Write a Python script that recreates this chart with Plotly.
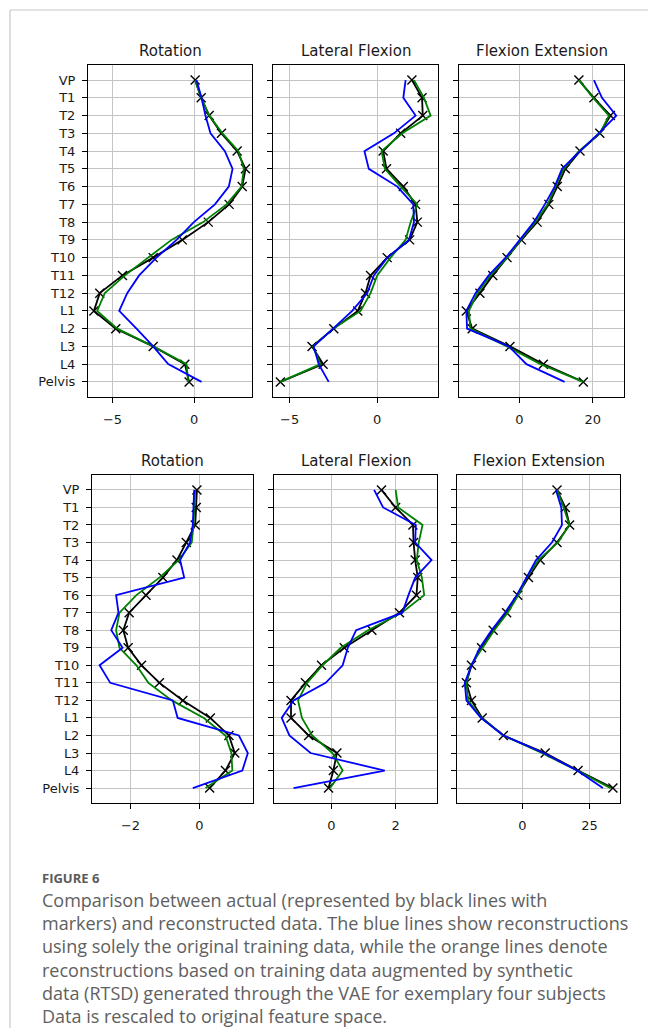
import plotly.graph_objects as go

W, H = 648, 1028

levels = ["VP", "T1", "T2", "T3", "T4", "T5", "T6", "T7", "T8", "T9",
          "T10", "T11", "T12", "L1", "L2", "L3", "L4", "Pelvis"]
panel_titles = ["Rotation", "Lateral Flexion", "Flexion Extension"]

# ---- Subject A (top row) ----
a_rot_actual = [0.06, 0.43, 0.92, 1.67, 2.63, 3.14, 2.94, 2.14, 0.86, -0.73,
                -2.51, -4.39, -5.78, -6.14, -4.80, -2.51, -0.57, -0.31]
a_rot_blue = [0.14, 0.45, 0.69, 1.0, 1.88, 2.35, 2.12, 1.27, -0.02, -1.08,
              -2.31, -3.37, -4.1, -4.59, -3.53, -2.51, -1.59, 0.45]
a_rot_green = [0.06, 0.43, 0.92, 1.73, 2.71, 3.04, 2.9, 1.98, 0.55, -1.39,
               -2.82, -4.24, -5.47, -5.94, -4.71, -2.51, -0.47, -0.37]

a_lat_actual = [1.98, 2.56, 2.60, 1.34, 0.34, 0.53, 1.49, 2.19, 2.29, 1.85,
                0.57, -0.38, -0.67, -1.11, -2.48, -3.72, -3.09, -5.53]
a_lat_blue = [1.62, 1.49, 2.19, 0.95, -0.73, -0.48, 1.15, 2.06, 2.10, 1.81,
              0.57, -0.19, -0.57, -1.43, -2.52, -3.63, -3.34, -2.77]
a_lat_green = [2.10, 2.67, 3.05, 1.43, 0.25, 0.44, 1.34, 2.29, 1.91, 1.62,
               0.76, 0.0, -0.38, -0.95, -2.52, -3.66, -3.24, -5.53]

a_fe_actual = [16.2, 20.3, 24.8, 21.9, 16.5, 12.5, 10.3, 8.0, 4.8, 0.5,
               -3.4, -7.3, -10.8, -14.5, -12.9, -2.6, 6.5, 17.4]
a_fe_blue = [20.3, 22.5, 26.4, 21.6, 16.5, 11.6, 9.6, 6.9, 3.9, 0.0,
             -3.8, -8.4, -12.0, -14.5, -14.3, -2.9, 1.9, 12.3]
a_fe_green = [16.2, 20.1, 24.4, 21.9, 16.2, 12.1, 9.8, 7.7, 4.3, 0.3,
              -3.4, -7.9, -11.5, -13.8, -13.4, -3.4, 5.7, 17.4]

# ---- Subject B (bottom row) ----
b_rot_actual = [-0.07, -0.09, -0.12, -0.38, -0.65, -1.06, -1.55, -2.04, -2.21, -2.07,
                -1.68, -1.16, -0.48, 0.32, 0.86, 1.03, 0.76, 0.30]
b_rot_blue = [-0.15, -0.17, -0.19, -0.27, -0.56, -0.44, -2.42, -2.35, -2.56, -2.23,
              -2.90, -2.59, -0.77, -0.63, 1.15, 1.41, 1.25, -0.19]
b_rot_green = [-0.12, -0.14, -0.17, -0.22, -0.60, -1.16, -1.83, -2.32, -2.42, -2.32,
               -1.83, -1.48, -0.80, 0.13, 0.76, 0.93, 0.96, 0.18]

b_lat_actual = [1.56, 2.0, 2.54, 2.56, 2.61, 2.69, 2.65, 2.12, 1.26, 0.40,
                -0.31, -0.81, -1.26, -1.26, -0.71, 0.17, 0.06, -0.09]
b_lat_blue = [1.33, 1.61, 2.63, 2.61, 3.12, 2.61, 2.40, 2.21, 0.77, 0.51,
              0.35, -0.18, -1.18, -1.55, -1.31, -0.65, 1.66, -1.18]
b_lat_green = [2.0, 2.08, 2.84, 2.72, 2.66, 2.82, 2.89, 2.19, 1.14, 0.29,
               -0.28, -0.76, -1.04, -0.92, -0.6, 0.03, 0.35, -0.04]

b_fe_actual = [12.9, 16.0, 17.6, 12.9, 6.6, 2.25, -1.75, -5.9, -10.9, -15.25,
               -19.0, -20.9, -19.0, -15.0, -7.1, 8.5, 20.75, 33.75]
b_fe_blue = [12.5, 14.5, 14.75, 11.0, 5.1, 1.6, -2.1, -6.5, -11.5, -15.9,
             -19.0, -21.5, -20.9, -15.5, -7.1, 7.9, 20.4, 30.0]
b_fe_green = [12.9, 15.4, 17.5, 13.25, 6.0, 1.6, -1.5, -5.5, -10.5, -15.0,
              -19.25, -20.9, -20.25, -15.25, -7.1, 7.25, 20.4, 32.9]

caption_label = "FIGURE 6"
caption_lines = [
    "Comparison between actual (represented by black lines with",
    "markers) and reconstructed data. The blue lines show reconstructions",
    "using solely the original training data, while the orange lines denote",
    "reconstructions based on training data augmented by synthetic",
    "data (RTSD) generated through the VAE for exemplary four subjects",
    "Data is rescaled to original feature space.",
]

rows = [
    [(a_rot_actual, a_rot_blue, a_rot_green), (a_lat_actual, a_lat_blue, a_lat_green),
     (a_fe_actual, a_fe_blue, a_fe_green)],
    [(b_rot_actual, b_rot_blue, b_rot_green), (b_lat_actual, b_lat_blue, b_lat_green),
     (b_fe_actual, b_fe_blue, b_fe_green)],
]

# layout in pixels
row_y = [(65, 397), (475, 803)]
col_x = [[(88, 252), (273, 438), (459, 624)],
         [(92, 253), (274, 437), (457, 620)]]
x_ranges = [[(-6.5, 3.54), (-5.95, 3.47), (-16.5, 28.5)],
            [(-3.12, 1.56), (-1.79, 3.29), (-24.4, 36.4)]]
x_dticks = [[5, 5, 20], [2, 2, 25]]
title_y = [51, 461]

FONT = "DejaVu Sans"
fig = go.Figure()
layout = dict(
    width=W, height=H, margin=dict(l=0, r=0, t=0, b=0),
    paper_bgcolor="white", plot_bgcolor="white", showlegend=False,
    annotations=[], shapes=[],
)

def px(x):
    return x / W

def py(y):
    return 1 - y / H

k = 0
for r in range(2):
    for c in range(3):
        k += 1
        xa = "x" if k == 1 else f"x{k}"
        ya = "y" if k == 1 else f"y{k}"
        actual, blue, green = rows[r][c]
        fig.add_trace(go.Scatter(
            x=actual, y=levels, xaxis=xa, yaxis=ya, mode="lines+markers",
            line=dict(color="black", width=1.8),
            marker=dict(symbol="x-thin", size=9, line=dict(color="black", width=1.4)),
        ))
        fig.add_trace(go.Scatter(
            x=green, y=levels, xaxis=xa, yaxis=ya, mode="lines",
            line=dict(color="#008000", width=1.8),
        ))
        fig.add_trace(go.Scatter(
            x=blue, y=levels, xaxis=xa, yaxis=ya, mode="lines",
            line=dict(color="#0000ff", width=1.8),
        ))
        x0, x1 = col_x[r][c]
        y0, y1 = row_y[r]
        axis_common = dict(
            showline=True, mirror=True, linecolor="black", linewidth=1,
            showgrid=True, gridcolor="#c4c4c4", gridwidth=1,
            ticks="outside", ticklen=5, tickcolor="black", tickwidth=1,
            zeroline=False,
            tickfont=dict(family=FONT, size=13, color="#1a1a1a"),
        )
        layout["xaxis" if k == 1 else f"xaxis{k}"] = dict(
            axis_common, domain=[px(x0), px(x1)], anchor=ya,
            range=list(x_ranges[r][c]), dtick=x_dticks[r][c], tick0=0,
            ticklabelstandoff=5,
        )
        layout["yaxis" if k == 1 else f"yaxis{k}"] = dict(
            axis_common, domain=[py(y1), py(y0)], anchor=xa,
            type="category", categoryorder="array", categoryarray=levels,
            range=[17.85, -0.85], showticklabels=(c == 0),
            ticklabelstandoff=4,
        )
        layout["annotations"].append(dict(
            text=panel_titles[c], xref="paper", yref="paper",
            x=px((x0 + x1) / 2), y=py(title_y[r]), xanchor="center", yanchor="middle",
            showarrow=False, font=dict(family=FONT, size=15, color="#1a1a1a"),
        ))

# caption
layout["annotations"].append(dict(
    text="<b>" + caption_label + "</b>", xref="paper", yref="paper",
    x=px(40), y=py(878), xanchor="left", yanchor="middle", showarrow=False,
    font=dict(family="Open Sans", size=13, color="#5a5a5a"),
))
for i, line in enumerate(caption_lines):
    layout["annotations"].append(dict(
        text=line, xref="paper", yref="paper",
        x=px(40), y=py(900 + 23.2 * i), xanchor="left", yanchor="middle", showarrow=False,
        font=dict(family="Open Sans", size=18, color="#606060"),
    ))

# frame of the figure box
layout["shapes"] += [
    dict(type="line", xref="paper", yref="paper", x0=px(10), x1=1.0, y0=py(10), y1=py(10),
         line=dict(color="#c8c8c8", width=1.2)),
    dict(type="line", xref="paper", yref="paper", x0=px(10), x1=px(10), y0=py(10), y1=0.0,
         line=dict(color="#c8c8c8", width=1.2)),
]

fig.update_layout(**layout)
fig.write_html("out.html", config={"displayModeBar": False},
               post_script="document.body.style.margin='0';")
